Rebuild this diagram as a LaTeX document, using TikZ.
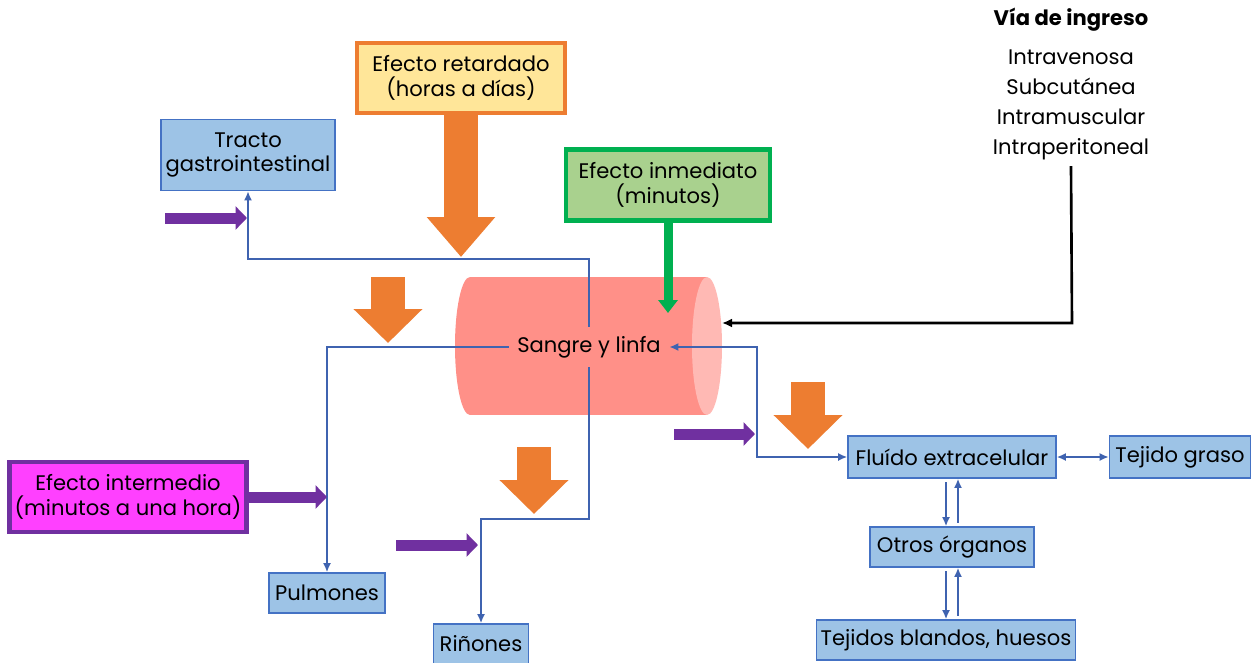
\documentclass[tikz,border=0pt]{standalone}
\usepackage{fontspec}
\setmainfont{Poppins}
\usetikzlibrary{arrows.meta}
\definecolor{cajaazul}{HTML}{9DC3E6}
\definecolor{bordeazul}{HTML}{4472C4}
\definecolor{lineaazul}{HTML}{3F63B0}
\definecolor{naranja}{HTML}{ED7D31}
\definecolor{amarillo}{HTML}{FFE699}
\definecolor{verde}{HTML}{00B050}
\definecolor{verdeclaro}{HTML}{A9D18E}
\definecolor{morado}{HTML}{7030A0}
\definecolor{fucsia}{HTML}{FF40FF}
\definecolor{sangrecil}{HTML}{FF9088}
\definecolor{sangretapa}{HTML}{FFB9B4}
\begin{document}
\begin{tikzpicture}[x=0.02cm, y=-0.02cm,
    font=\fontsize{12}{14}\selectfont,
    organo/.style={draw=bordeazul, fill=cajaazul, line width=0.9pt, inner sep=2pt, align=center},
    efecto/.style={line width=2.4pt, align=center, inner sep=2pt},
    flujo/.style={draw=lineaazul, line width=1.3pt, >={Latex[length=0.18cm,width=0.16cm]}},
    gruesa/.style={draw=naranja, line width=0.68cm, -{Triangle[length=0.68cm,width=1.34cm]}},
    morada/.style={draw=morado, line width=0.22cm, -{Triangle[length=0.23cm,width=0.46cm]}}]
    \useasboundingbox (0,0) rectangle (1252,663);
    \fill[white] (0,0) rectangle (1252,663);
    % Cilindro: sangre y linfa
    \fill[sangrecil] (470,346) ellipse [x radius=0.3cm, y radius=1.38cm];
    \fill[sangrecil] (470,277) rectangle (707,415);
    \fill[sangretapa] (707,346) ellipse [x radius=0.3cm, y radius=1.38cm];
    \node[minimum width=3.2cm, minimum height=0.8cm, inner sep=0pt] (sangre) at (589,347) {Sangre y linfa};
    % Cajas de efecto
    \node[efecto, draw=naranja, fill=amarillo, minimum width=4.16cm, minimum height=1.4cm] (retardado) at (461,78) {Efecto retardado\\(horas a días)};
    \node[efecto, draw=verde, fill=verdeclaro, minimum width=4.08cm, minimum height=1.42cm] (inmediato) at (668,185) {Efecto inmediato\\(minutos)};
    \node[efecto, draw=morado, fill=fucsia, minimum width=4.74cm, minimum height=1.4cm] (intermedio) at (128,497) {Efecto intermedio\\(minutos a una hora)};
    % Organos
    \node[organo, minimum width=3.48cm, minimum height=1.42cm] (tracto) at (248,155) {Tracto\\gastrointestinal};
    \node[organo, minimum width=2.32cm, minimum height=0.8cm] (pulmones) at (327,593) {Pulmones};
    \node[organo, minimum width=1.9cm, minimum height=0.8cm] (rinones) at (481,644) {Riñones};
    \node[organo, minimum width=4.16cm, minimum height=0.84cm] (fluido) at (952,457) {Fluído extracelular};
    \node[organo, minimum width=2.82cm, minimum height=0.84cm] (graso) at (1180,457) {Tejido graso};
    \node[organo, minimum width=3.28cm, minimum height=0.8cm] (otros) at (952,547) {Otros órganos};
    \node[organo, minimum width=5.18cm, minimum height=0.8cm] (tejidos) at (946,640) {Tejidos blandos, huesos};
    % Via de ingreso
    \node[font=\bfseries\fontsize{12}{14}\selectfont] (via) at (1071,20) {Vía de ingreso};
    \node[align=center, font=\fontsize{12}{17}\selectfont] (vias) at (1071,105) {Intravenosa\\Subcutánea\\Intramuscular\\Intraperitoneal};
    % Codos de las lineas
    \coordinate (codogi) at (589,259);
    \coordinate (codorin) at (589,519);
    \coordinate (cododer) at (757,347);
    \coordinate (codovia) at (1072,323);
    \coordinate (tapa) at (722,323);
    % Lineas azules
    \draw[flujo,->] (sangre.north) -- (codogi) -| (tracto.south);
    \draw[flujo,->] (sangre.west) -| (pulmones.north);
    \draw[flujo,->] (sangre.south) -- (codorin) -| (rinones.north);
    \draw[flujo,<->] (sangre.east) -- (cododer) |- (fluido.west);
    \draw[flujo,<->] (fluido) -- (graso);
    \draw[flujo,->, shorten <=2pt] ([xshift=-0.12cm]fluido.south) -- ([xshift=-0.12cm]otros.north);
    \draw[flujo,<-, shorten >=2pt] ([xshift=0.12cm]fluido.south) -- ([xshift=0.12cm]otros.north);
    \draw[flujo,->, shorten <=2pt] ([xshift=-0.12cm]otros.south) -- ([xshift=-0.12cm]otros.south |- tejidos.north);
    \draw[flujo,<-, shorten >=2pt] ([xshift=0.12cm]otros.south) -- ([xshift=0.12cm]otros.south |- tejidos.north);
    % Via de ingreso hacia el cilindro
    \draw[line width=1.5pt, -{Latex[length=0.2cm,width=0.18cm]}] (vias.south) -- (codovia) -- (tapa);
    % Flecha verde
    \coordinate (verdefin) at (668,313);
    \draw[draw=verde, line width=0.18cm, -{Triangle[length=0.26cm,width=0.38cm]}] (inmediato.south) -- (verdefin);
    % Flechas naranjas
    \coordinate (retardofin) at (461,257);
    \draw[gruesa, -{Triangle[length=0.8cm,width=1.32cm]}] (retardado.south) -- (retardofin);
    \coordinate (nar1a) at (388,277);
    \coordinate (nar1b) at (388,343);
    \coordinate (nar2a) at (534,447);
    \coordinate (nar2b) at (534,514);
    \coordinate (nar3a) at (808,382);
    \coordinate (nar3b) at (808,449);
    \draw[gruesa] (nar1a) -- (nar1b);
    \draw[gruesa] (nar2a) -- (nar2b);
    \draw[gruesa] (nar3a) -- (nar3b);
    % Flechas moradas
    \coordinate (mor1a) at (165,218);
    \coordinate (mor1b) at (247,218);
    \coordinate (mor2b) at (327,497);
    \coordinate (mor3a) at (396,545);
    \coordinate (mor3b) at (478,545);
    \coordinate (mor4a) at (674,434);
    \coordinate (mor4b) at (755,434);
    \draw[morada] (mor1a) -- (mor1b);
    \draw[morada] (intermedio.east) -- (mor2b);
    \draw[morada] (mor3a) -- (mor3b);
    \draw[morada] (mor4a) -- (mor4b);
\end{tikzpicture}
\end{document}
